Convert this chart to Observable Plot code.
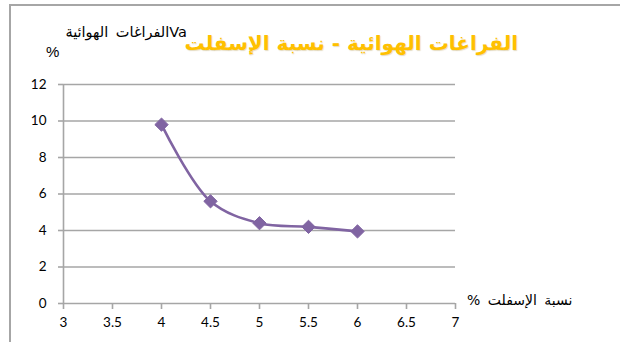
<!DOCTYPE html>
<html>
<head>
<meta charset="utf-8">
<script src="https://cdn.jsdelivr.net/npm/d3@7"></script>
<script src="https://cdn.jsdelivr.net/npm/@observablehq/plot@0.6"></script>
<style>
  html, body { margin: 0; padding: 0; background: #fff; }
  #wrap { position: relative; width: 620px; height: 342px; overflow: hidden; }
  #frame { position: absolute; left: 9px; top: 4px; width: 640px; height: 360px;
           border-left: 2px solid #a6a6a6; border-top: 2px solid #a6a6a6; }
  #chart { position: absolute; left: 0; top: 0; }
  .lbl { position: absolute; white-space: nowrap; font-family: "DejaVu Sans", sans-serif; color: #000; }
  #title { left: 188px; top: 31px; width: 330px; text-align: center; direction: rtl;
           font-size: 20px; font-weight: bold; color: #ffc000;
           text-shadow: 0.5px 0.5px 1px rgba(150, 110, 0, 0.25); }
  #ylab { right: 433px; top: 24px; direction: rtl; font-size: 14.5px; word-spacing: 3px; }
  #ypct { left: 46px; top: 43px; font-size: 15px; font-family: "Liberation Sans", sans-serif; }
  #xlab { left: 467px; top: 292px; direction: rtl; font-size: 14px; word-spacing: 3px; }
</style>
</head>
<body>
<div id="wrap">
  <div id="frame"></div>
  <div id="chart"></div>
  <div class="lbl" id="title">الفراغات الهوائية - نسبة الإسفلت</div>
  <div class="lbl" id="ylab">Vaالفراغات الهوائية</div>
  <div class="lbl" id="ypct">%</div>
  <div class="lbl" id="xlab">نسبة الإسفلت %</div>
</div>
<script>
// Asphalt content (%) and air voids Va (%)
const asphalt = [4, 4.5, 5, 5.5, 6];
const airVoids = [9.8, 5.6, 4.4, 4.2, 3.95];

const xTicks = [3, 3.5, 4, 4.5, 5, 5.5, 6, 6.5, 7];
const yTicks = [0, 2, 4, 6, 8, 10, 12];

const data = asphalt.map((a, i) => ({ a, v: airVoids[i] }));

const grid = "#a6a6a6";
const purple = "#8064a2";

const chart = Plot.plot({
  width: 620,
  height: 342,
  marginLeft: 63,
  marginRight: 165,
  marginTop: 84,
  marginBottom: 39,
  style: { fontFamily: "Lato, 'Open Sans', sans-serif", fontSize: "13.5px", color: "#000", background: "transparent" },
  x: { domain: [3, 7], ticks: xTicks },
  y: { domain: [0, 12], ticks: yTicks },
  marks: [
    Plot.ruleY(yTicks, { stroke: grid, strokeWidth: 1.6, strokeOpacity: 1 }),
    Plot.ruleX([3], { stroke: grid, strokeWidth: 1.6 }),
    Plot.axisY({ ticks: yTicks, tickSize: 5, tickPadding: 12, stroke: grid, strokeWidth: 1.6, strokeOpacity: 1, label: null, tickFormat: d => String(d) }),
    Plot.axisX({ ticks: xTicks, tickSize: 6, tickPadding: 8, stroke: grid, strokeWidth: 1.6, strokeOpacity: 1, label: null, tickFormat: d => String(d) }),
    Plot.line(data, { x: "a", y: "v", curve: "catmull-rom", stroke: purple, strokeWidth: 2.6 }),
    Plot.dot(data, { x: "a", y: "v", symbol: "diamond2", r: 6, fill: purple, stroke: purple, strokeWidth: 1 })
  ]
});
document.getElementById("chart").appendChild(chart);
</script>
</body>
</html>
